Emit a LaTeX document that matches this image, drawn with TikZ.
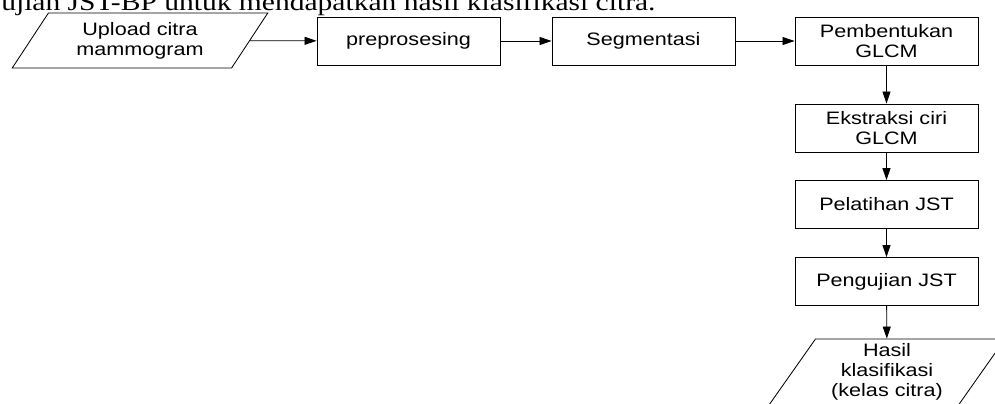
\documentclass[tikz,border=0pt]{standalone}
\usepackage{fontspec}
\setmainfont{Liberation Sans}[FakeStretch=1.2]
\newfontfamily\bodyserif{Liberation Serif}[FakeStretch=1.2]
\usetikzlibrary{positioning,arrows.meta,shapes.geometric}

\begin{document}
\begin{tikzpicture}[
  x=0.025cm, y=-0.025cm,
  font=\fontsize{12.8}{14.2}\selectfont,
  proc/.style = {draw=black, line width=0.6pt, align=center, inner sep=2pt,
                 minimum width=4.575cm, minimum height=1.2cm},
  dat/.style  = {trapezium, trapezium stretches=true, draw=black, line width=0.6pt,
                 align=center, inner sep=1pt},
  arr/.style  = {-{Triangle[length=3mm,width=2mm]}, draw=black, line width=0.6pt},
  body/.style = {font=\bodyserif\fontsize{17.5}{20}\selectfont, inner sep=0pt, anchor=base west},
]
\clip (0,0) rectangle (995,403);

% ---------- running text (cut off) ----------
\node[body] (kalimat) at (1,10)
  {ujian JST-BP untuk mendapatkan hasil klasifikasi citra.};

% ---------- top row ----------
\node[dat, minimum width=6.4cm, minimum height=1.375cm,
      trapezium left angle=57, trapezium right angle=123] (upload) at (140,40.5)
  {Upload citra\\ mammogram};
\node[proc] (prepro) at (408.5,41) {preprosesing};
\node[proc] (segmen) at (643.5,41) {Segmentasi};
\node[proc] (glcm)   at (886.5,41) {Pembentukan\\ GLCM};

% ---------- right column ----------
\node[proc] (ciri)    at (886.5,128)   {Ekstraksi ciri\\ GLCM};
\node[proc] (latih)   at (886.5,204.5) {Pelatihan JST};
\node[proc] (uji)     at (886.5,281.5) {Pengujian JST};
\node[dat, minimum width=5.9cm, minimum height=1.65cm,
      trapezium left angle=58, trapezium right angle=122] (hasil) at (887,372)
  {Hasil\\ klasifikasi\\ (kelas citra)};

% ---------- arrows ----------
\draw[arr] (upload) -- (prepro);
\draw[arr] (prepro) -- (segmen);
\draw[arr] (segmen) -- (glcm);
\draw[arr] (glcm) -- (ciri);
\draw[arr] (ciri) -- (latih);
\draw[arr] (latih) -- (uji);
\draw[arr] (uji) -- (hasil);

\end{tikzpicture}
\end{document}
